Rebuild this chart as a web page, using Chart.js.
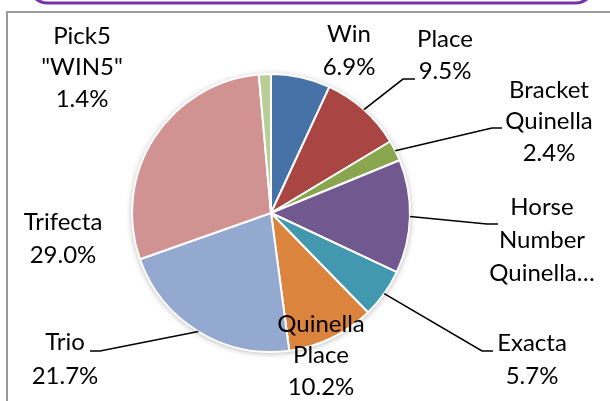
<!DOCTYPE html>
<html>
<head>
<meta charset="utf-8">
<script src="https://cdn.jsdelivr.net/npm/chart.js@4/dist/chart.umd.min.js"></script>
<style>
  html, body { margin: 0; padding: 0; background: #fff; }
  #c { display: block; }
</style>
</head>
<body>
<canvas id="c" width="610" height="401"></canvas>
<script>
// ---- data ----
const categories = ['Win', 'Place', 'Bracket Quinella', 'Horse Number Quinella', 'Exacta', 'Quinella Place', 'Trio', 'Trifecta', 'Pick5 "WIN5"'];
const shares = [6.9, 9.5, 2.4, 13.2, 5.7, 10.2, 21.7, 29.0, 1.4];
const labelNames = [['Win'], ['Place'], ['Bracket', 'Quinella'], ['Horse', 'Number', 'Quinella…'], ['Exacta'], ['Quinella', 'Place'], ['Trio'], ['Trifecta'], ['Pick5', '"WIN5"']];
const showPercent = [true, true, true, false, true, true, true, true, true];

// ---- styles ----
const colors = ['#4672A8', '#A94543', '#89A54E', '#71588F', '#4198AF', '#DB843D', '#93A9CF', '#D19392', '#B9CD96'];
// label layout: [centerX, firstLineCenterY, lineHeight]
const labelLayout = [
  [349, 34, 33], [445, 39, 32], [549, 90, 31.5], [542, 207, 33], [532, 343, 33],
  [321, 324, 31.5], [65, 342, 34], [63, 222, 33], [82, 36, 31.5]
];
// leader lines: [elbowX, elbowY, endX] or null
const leaders = [null, [403, 79, 415], [492, 128, 502], [487, 224, 498], [482, 351, 493], null, [100, 351, 90], null, null];

const decor = {
  id: 'decor',
  beforeDraw(chart) {
    const ctx = chart.ctx;
    ctx.save();
    ctx.fillStyle = '#fff';
    ctx.fillRect(0, 0, chart.width, chart.height);
    // purple rounded box (top, cut off)
    ctx.strokeStyle = '#7433A6';
    ctx.lineWidth = 3;
    ctx.beginPath();
    ctx.roundRect(28, -40, 567, 43, 20);
    ctx.stroke();
    // gray frame
    ctx.strokeStyle = '#9a9a9a';
    ctx.lineWidth = 2;
    ctx.strokeRect(7, 12, 700, 500);
    ctx.restore();
  },
  beforeDatasetsDraw(chart) {
    const arc = chart.getDatasetMeta(0).data[0];
    if (!arc) return;
    const ctx = chart.ctx;
    ctx.save();
    ctx.shadowColor = 'rgba(0,0,0,0.35)';
    ctx.shadowBlur = 6;
    ctx.shadowOffsetX = 0;
    ctx.shadowOffsetY = 1;
    ctx.fillStyle = '#fff';
    ctx.beginPath();
    ctx.arc(arc.x, arc.y, arc.outerRadius, 0, Math.PI * 2);
    ctx.fill();
    ctx.restore();
  },
  afterDatasetsDraw(chart) {
    const ctx = chart.ctx;
    const meta = chart.getDatasetMeta(0);
    ctx.save();
    ctx.font = '24px Lato, Carlito, "Open Sans", sans-serif';
    ctx.fillStyle = '#000';
    ctx.textAlign = 'center';
    ctx.textBaseline = 'middle';
    ctx.strokeStyle = '#000';
    ctx.lineWidth = 1.6;
    meta.data.forEach((el, i) => {
      const L = leaders[i];
      if (L) {
        const mid = (el.startAngle + el.endAngle) / 2;
        const sx = el.x + Math.cos(mid) * el.outerRadius;
        const sy = el.y + Math.sin(mid) * el.outerRadius;
        ctx.beginPath();
        ctx.moveTo(sx, sy);
        ctx.lineTo(L[0], L[1]);
        ctx.lineTo(L[2], L[1]);
        ctx.stroke();
      }
      const lines = labelNames[i].slice();
      if (showPercent[i]) lines.push(shares[i].toFixed(1) + '%');
      const [cx, cy, lh] = labelLayout[i];
      lines.forEach((t, k) => ctx.fillText(t, cx, cy + k * lh));
    });
    ctx.restore();
  }
};

new Chart(document.getElementById('c'), {
  type: 'pie',
  data: {
    labels: categories,
    datasets: [{
      data: shares,
      backgroundColor: colors,
      borderColor: '#ffffff',
      borderWidth: 2
    }]
  },
  options: {
    responsive: false,
    animation: false,
    rotation: 0,
    layout: { padding: { left: 131, right: 199, top: 73, bottom: 48 } },
    plugins: { legend: { display: false }, tooltip: { enabled: false } }
  },
  plugins: [decor]
});
</script>
</body>
</html>
